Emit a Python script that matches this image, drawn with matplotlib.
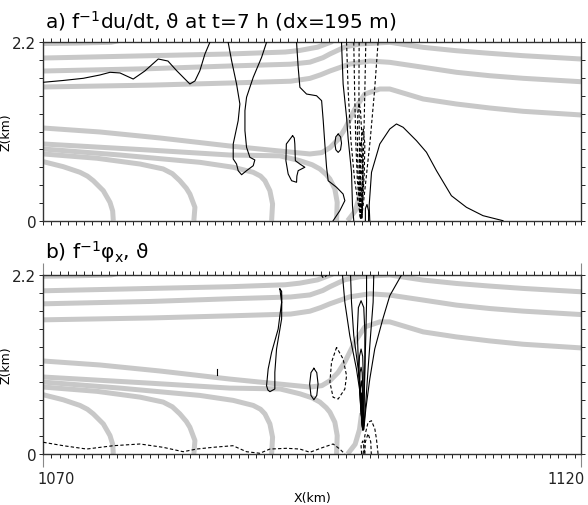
import numpy as np
import matplotlib
matplotlib.use("Agg")
import matplotlib.pyplot as plt
from matplotlib.ticker import FixedLocator
from matplotlib.transforms import ScaledTranslation

plt.rcParams['font.family'] = ['DejaVu Sans']
plt.rcParams['mathtext.fontset'] = 'dejavusans'

# ---------------- data (x in km, z in km) ----------------
x_range = [1070, 1120]
z_range = [0, 2.2]
x_tick_labels = ["1070", "1120"]
z_tick_labels = ["0", "2.2"]
titles = ["a) f$^{-1}$du/dt, ϑ at t=7 h (dx=195 m)", "b) f$^{-1}$φ$_{\\mathrm{x}}$, ϑ"]

# potential temperature contours (grey, same in both panels)
theta_lines = [
    [(1070, 2.185), (1073, 2.19), (1076.3, 2.2), (1077, 2.22)],
    [(1070, 2.006), (1080, 2.035), (1087.35, 2.056), (1092.5, 2.08), (1093.86, 2.10), (1095.5, 2.14), (1096.9, 2.21)],
    [(1070, 1.846), (1080, 1.875), (1087.35, 1.908), (1093.0, 1.93), (1094.79, 1.955), (1096.0, 2.01), (1096.65, 2.056),
     (1098.04, 2.142), (1099.43, 2.179), (1102.22, 2.2), (1105.32, 2.138), (1108.42, 2.096), (1111.51, 2.064),
     (1114.61, 2.035), (1120, 1.994)],
    [(1070, 1.649), (1080, 1.672), (1087.35, 1.698), (1093.0, 1.72), (1094.79, 1.755), (1095.8, 1.80), (1096.65, 1.846),
     (1098.5, 1.932), (1100.36, 1.969), (1102.22, 1.953), (1105.32, 1.892), (1108.42, 1.830), (1111.51, 1.788),
     (1114.61, 1.756), (1120, 1.714)],
    [(1070, 1.143), (1075.27, 1.094), (1080.85, 1.02), (1087.35, 0.921), (1092.0, 0.859), (1094.79, 0.823),
     (1095.9, 0.84), (1096.65, 0.90), (1097.4, 1.00), (1098.04, 1.131), (1098.97, 1.377), (1099.9, 1.562),
     (1101.29, 1.624), (1102.22, 1.624), (1105.32, 1.501), (1108.42, 1.439), (1111.51, 1.390), (1114.61, 1.349),
     (1120, 1.304)],
    [(1070, 0.946), (1080, 0.87), (1087.35, 0.81), (1092.0, 0.80), (1093.86, 0.740), (1095.0, 0.69), (1095.72, 0.638),
     (1096.3, 0.57), (1096.65, 0.514), (1097.11, 0.391), (1097.33, 0.227), (1097.27, 0.0)],
    [(1070, 0.884), (1077.13, 0.81), (1084.56, 0.720), (1087.66, 0.659), (1089.52, 0.597), (1090.2, 0.55),
     (1090.61, 0.493), (1091.07, 0.370), (1091.32, 0.206), (1091.23, 0.0)],
    [(1070, 0.823), (1075.0, 0.77), (1078.99, 0.699), (1081.15, 0.638), (1082.0, 0.58), (1082.70, 0.493),
     (1083.3, 0.40), (1083.63, 0.329), (1084.10, 0.165), (1084.0, 0.0)],
    [(1070, 0.728), (1071.86, 0.666), (1073.41, 0.597), (1074.1, 0.55), (1074.65, 0.493), (1075.58, 0.370),
     (1076.20, 0.227), (1076.45, 0.12), (1076.51, 0.0)],
    [(1098.3, 0.0), (1099.0, 0.12), (1099.4, 0.3), (1099.6, 0.5)],
]

# panel a: f^-1 du/dt, positive (solid)
a_solid = [
    [(1070, 1.707), (1071.83, 1.729), (1073.72, 1.756), (1075.27, 1.797), (1076.2, 1.830), (1077.13, 1.822),
     (1078.36, 1.747), (1079.44, 1.846), (1080.69, 1.994), (1081.59, 1.969), (1082.40, 1.850), (1083.17, 1.747),
     (1083.63, 1.686), (1084.10, 1.723), (1084.56, 1.850), (1085.03, 2.056), (1085.49, 2.2)],
    [(1087.19, 2.2), (1087.51, 1.973), (1087.97, 1.686), (1088.28, 1.439), (1088.12, 1.233), (1087.66, 0.946),
     (1087.66, 0.761), (1087.97, 0.699), (1088.12, 0.617), (1088.44, 0.567), (1088.90, 0.617), (1089.52, 0.678),
     (1089.67, 0.749), (1089.21, 0.782), (1088.90, 0.905), (1088.75, 1.110), (1088.75, 1.357), (1088.90, 1.522),
     (1089.52, 1.768), (1090.30, 2.015), (1090.76, 2.2)],
    [(1093.18, 1.048), (1092.60, 0.946), (1092.56, 0.740), (1092.77, 0.576), (1093.09, 0.493), (1093.55, 0.474),
     (1093.58, 0.551), (1093.70, 0.617), (1094.32, 0.659), (1093.86, 0.699), (1093.44, 0.740), (1093.39, 0.946),
     (1093.34, 1.02), (1093.18, 1.048)],
    [(1093.55, 2.2), (1093.70, 1.892), (1093.86, 1.645), (1094.48, 1.562), (1095.41, 1.541), (1095.88, 1.480),
     (1096.03, 1.233), (1096.18, 0.946), (1096.34, 0.659), (1096.49, 0.493), (1097.27, 0.412), (1097.88, 0.329),
     (1098.04, 0.247), (1097.57, 0.123), (1096.95, 0.0)],
    [(1097.42, 1.068), (1097.64, 1.035), (1097.73, 0.955), (1097.64, 0.875), (1097.42, 0.842), (1097.20, 0.875),
     (1097.11, 0.955), (1097.20, 1.035), (1097.42, 1.068)],
    [(1097.73, 2.2), (1097.88, 1.686), (1098.20, 1.275), (1098.35, 1.008), (1098.66, 0.60), (1098.75, 0.185), (1098.87, 0.0)],
    [(1100.36, 0.0), (1100.30, 0.185), (1100.52, 0.597), (1101.29, 0.946), (1102.22, 1.131), (1102.84, 1.193),
     (1103.46, 1.152), (1104.70, 0.987), (1105.63, 0.844), (1106.56, 0.617), (1107.95, 0.308), (1109.35, 0.165),
     (1110.89, 0.062), (1112.75, 0.0)],
    [(1099.95, 0.0), (1099.95, 0.15), (1100.1, 0.2), (1100.25, 0.12), (1100.25, 0.0)],
]

# panel a: negative (dashed)
a_dashed = [
    [(1098.20, 2.2), (1098.35, 1.6), (1098.6, 1.0), (1098.95, 0.5), (1099.3, 0.2), (1099.5, 0.03)],
    [(1098.87, 2.2), (1098.95, 1.6), (1099.05, 1.0), (1099.2, 0.5), (1099.4, 0.2), (1099.5, 0.03)],
    [(1099.37, 2.2), (1099.35, 1.6), (1099.38, 1.0), (1099.45, 0.5), (1099.5, 0.2), (1099.55, 0.03)],
    [(1099.99, 2.2), (1099.9, 1.6), (1099.8, 1.0), (1099.7, 0.5), (1099.6, 0.2), (1099.55, 0.03)],
    [(1101.13, 2.2), (1100.8, 1.6), (1100.4, 1.0), (1100.0, 0.5), (1099.75, 0.2), (1099.6, 0.03)],
    [(1099.5, 0.03), (1099.25, 0.6), (1099.2, 1.1), (1099.25, 1.35), (1099.37, 1.448), (1099.5, 1.35),
     (1099.6, 1.1), (1099.65, 0.6), (1099.6, 0.03)],
    [(1099.5, 0.03), (1099.45, 0.6), (1099.55, 0.95), (1099.74, 1.13), (1099.9, 0.95), (1099.85, 0.6), (1099.62, 0.03)],
    [(1099.5, 0.03), (1099.35, 0.5), (1099.4, 0.85), (1099.55, 0.98), (1099.7, 0.85), (1099.7, 0.5), (1099.6, 0.03)],
    [(1099.5, 0.03), (1099.45, 0.4), (1099.5, 0.7), (1099.6, 0.8), (1099.72, 0.7), (1099.72, 0.4), (1099.6, 0.03)],
    [(1099.5, 0.03), (1099.42, 0.3), (1099.5, 0.55), (1099.6, 0.63), (1099.7, 0.55), (1099.68, 0.3), (1099.6, 0.03)],
    [(1099.5, 0.03), (1099.47, 0.25), (1099.55, 0.42), (1099.65, 0.25), (1099.6, 0.03)],
]

# panel b: f^-1 phi_x positive (solid)
b_solid = [
    [(1086.11, 1.05), (1086.11, 0.97)],
    [(1092.0, 2.028), (1092.16, 1.865), (1091.84, 1.536), (1091.23, 1.250), (1090.91, 1.045), (1090.76, 0.839),
     (1090.88, 0.787), (1091.07, 0.766), (1091.53, 0.799), (1091.53, 1.004), (1091.69, 1.291), (1092.16, 1.659),
     (1092.18, 1.905), (1092.16, 2.0), (1092.0, 2.028)],
    [(1095.16, 1.053), (1095.43, 1.000), (1095.55, 0.860), (1095.43, 0.720), (1095.16, 0.667), (1094.89, 0.720),
     (1094.77, 0.860), (1094.89, 1.000), (1095.16, 1.053)],
    [(1097.82, 2.2), (1098.04, 1.865), (1098.50, 1.455), (1099.12, 1.045), (1099.59, 0.635), (1099.74, 0.307)],
    [(1098.57, 2.2), (1098.66, 1.865), (1098.87, 1.455), (1099.28, 1.045), (1099.59, 0.635), (1099.74, 0.348)],
    [(1100.06, 2.2), (1100.06, 1.865), (1099.99, 1.455), (1099.90, 1.045), (1099.81, 0.635), (1099.74, 0.348)],
    [(1100.73, 2.2), (1100.67, 1.865), (1100.43, 1.455), (1100.20, 1.045), (1099.99, 0.635), (1099.81, 0.348)],
    [(1103.31, 2.2), (1102.22, 1.946), (1101.57, 1.659), (1100.82, 1.291), (1100.36, 0.922), (1099.99, 0.553), (1099.81, 0.307)],
    [(1099.70, 0.30), (1099.5, 0.7), (1099.3, 1.1), (1099.2, 1.5), (1099.3, 1.8), (1099.55, 1.884), (1099.8, 1.8),
     (1099.9, 1.5), (1099.9, 1.1), (1099.85, 0.7), (1099.78, 0.30)],
    [(1099.7, 0.3), (1099.45, 0.7), (1099.35, 1.0), (1099.4, 1.2), (1099.55, 1.29), (1099.7, 1.2), (1099.75, 1.0),
     (1099.75, 0.7), (1099.76, 0.3)],
    [(1099.7, 0.3), (1099.5, 0.6), (1099.42, 0.85), (1099.45, 1.0), (1099.55, 1.066), (1099.65, 1.0), (1099.7, 0.85),
     (1099.72, 0.6), (1099.75, 0.3)],
    [(1099.7, 0.3), (1099.5, 0.6), (1099.48, 0.8), (1099.57, 0.90), (1099.66, 0.8), (1099.7, 0.6), (1099.74, 0.3)],
    [(1099.7, 0.3), (1099.55, 0.5), (1099.6, 0.75), (1099.68, 0.5), (1099.74, 0.3)],
    [(1099.7, 0.3), (1099.6, 0.45), (1099.65, 0.6), (1099.72, 0.45), (1099.74, 0.3)],
]

# panel b: negative (dashed)
b_dashed = [
    [(1070, 0.144), (1071.86, 0.102), (1074.03, 0.061), (1076.51, 0.102), (1078.99, 0.123), (1081.15, 0.082),
     (1083.01, 0.028), (1084.26, 0.061), (1085.77, 0.082), (1087.63, 0.102), (1088.90, 0.028), (1090.14, 0.009),
     (1091.07, 0.061), (1092.63, 0.070), (1093.86, 0.061), (1094.79, 0.021), (1096.03, 0.082), (1096.95, 0.123),
     (1097.57, 0.061), (1098.04, 0.0)],
    [(1095.85, 2.2), (1096.0, 2.17), (1096.2, 2.17), (1096.35, 2.2)],
    [(1097.27, 1.311), (1096.80, 1.127), (1096.65, 0.881), (1096.95, 0.697), (1097.42, 0.676), (1098.04, 0.799),
     (1098.20, 0.962), (1097.88, 1.168), (1097.27, 1.311)],
    [(1099.74, 0.0), (1099.90, 0.225), (1100.20, 0.39), (1100.52, 0.409), (1100.83, 0.307), (1100.98, 0.184), (1101.13, 0.0)],
    [(1099.9, 0.0), (1099.95, 0.15), (1100.2, 0.25), (1100.45, 0.15), (1100.5, 0.0)],
    [(1099.6, 0.0), (1099.55, 0.1), (1099.7, 0.16), (1099.85, 0.08), (1099.85, 0.0)],
]

# ---------------- plotting ----------------
W, H = 588, 506
fig = plt.figure(figsize=(W / 100, H / 100), dpi=100)
axa = fig.add_axes([43.3 / W, 1 - 221.7 / H, (581 - 43.3) / W, (221.7 - 43.3) / H])
axb = fig.add_axes([43.3 / W, 1 - 455 / H, (581 - 43.3) / W, (455 - 276) / H])

GREY = '#c8c8c8'
for ax, solid, dashed, title, ytitle in [(axa, a_solid, a_dashed, titles[0], 28),
                                         (axb, b_solid, b_dashed, titles[1], 259)]:
    for ln in theta_lines:
        xs, zs = zip(*ln)
        ax.plot(xs, zs, color=GREY, lw=3.6, solid_capstyle='butt', solid_joinstyle='round', zorder=1)
    for ln in solid:
        xs, zs = zip(*ln)
        ax.plot(xs, zs, color='black', lw=0.8, zorder=3)
    for ln in dashed:
        xs, zs = zip(*ln)
        ax.plot(xs, zs, color='black', lw=0.8, ls=(0, (3, 2)), zorder=3)
    ax.set_xlim(*x_range)
    ax.set_ylim(*z_range)
    ax.xaxis.set_minor_locator(FixedLocator(np.arange(1070, 1120.01, 0.76)))
    ax.yaxis.set_minor_locator(FixedLocator(np.linspace(0, 2.2, 11)))
    ax.set_yticks(z_range)
    ax.set_yticklabels(z_tick_labels, fontsize=11)
    ax.tick_params(which='both', direction='out', length=3, width=0.7, colors='#222222',
                   top=True, right=True)
    ax.tick_params(axis='y', which='major', length=3, pad=2)
    for s in ax.spines.values():
        s.set_color('#333333')
        s.set_linewidth(1.0)
    ax.set_ylabel('Z(km)', fontsize=9)
    ax.yaxis.set_label_coords(-0.058, 0.5)
    fig.text(45 / W, 1 - ytitle / H, title, fontsize=14.5, ha='left', va='baseline')

axa.set_xticks(x_range)
axa.set_xticklabels([])
axa.tick_params(axis='x', which='major', length=3)
axb.set_xticks(x_range)
labs = axb.set_xticklabels(x_tick_labels, fontsize=10.5)
axb.tick_params(axis='x', which='major', length=9, width=0.8, color='#888888', pad=3)
labs[0].set_horizontalalignment('left')
labs[0].set_transform(labs[0].get_transform() + ScaledTranslation(-6 / 100, 0, fig.dpi_scale_trans))
labs[1].set_horizontalalignment('right')
labs[1].set_transform(labs[1].get_transform() + ScaledTranslation(4 / 100, 0, fig.dpi_scale_trans))
axb.set_xlabel('X(km)', fontsize=9, labelpad=4)

fig.savefig('out.png', dpi=100)
